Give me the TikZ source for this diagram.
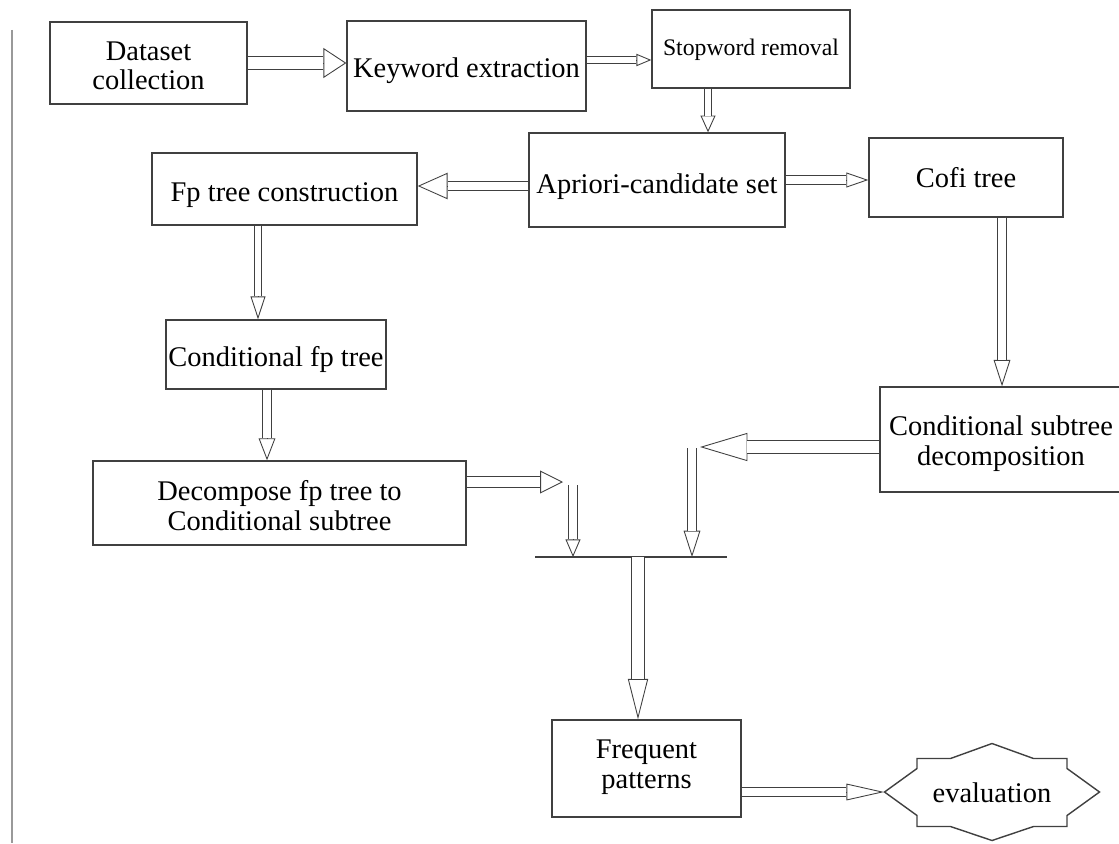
\documentclass[tikz,border=0pt]{standalone}
\usepackage{fontspec}
\setmainfont{Liberation Serif}
\usetikzlibrary{arrows.meta}

\tikzset{
	box/.style={draw=black!75, line width=0.8pt, inner sep=0pt, align=center},
	tb/.style={text height=#1, text depth=0pt},
	hollow/.style n args={3}{draw=black!75, line width=0.5pt, -{Triangle[open, width=#2, length=#3]},
		postaction={draw, -, double=white, double distance=#1, shorten >=#3}}
}

\begin{document}
\begin{tikzpicture}[font=\fontsize{16.2}{17}\selectfont]
	\useasboundingbox (0,0) rectangle (22.38,-16.86);
	\draw[black!40, line width=0.8pt] (0.24,-0.6) -- (0.24,-16.86);

	\draw (2.97,-1.26) node[box, tb=1.08cm, minimum width=3.94cm, minimum height=1.64cm] (data) {Dataset\\collection};
	\draw (9.33,-1.32) node[box, tb=0.48cm, minimum width=4.78cm, minimum height=1.80cm] (key) {Keyword extraction};
	\draw (15.02,-0.98) node[box, tb=0.26cm, minimum width=3.96cm, minimum height=1.56cm, font=\fontsize{13.5}{15}\selectfont] (stop) {Stopword removal};
	\draw (13.14,-3.60) node[box, tb=0.52cm, minimum width=5.12cm, minimum height=1.88cm] (apriori) {Apriori-candidate set};
	\draw (5.69,-3.78) node[box, tb=0.48cm, minimum width=5.30cm, minimum height=1.44cm] (fptree) {Fp tree construction};
	\draw (19.32,-3.55) node[box, tb=0.40cm, minimum width=3.88cm, minimum height=1.58cm] (cofi) {Cofi tree};
	\draw (5.52,-7.09) node[box, tb=0.48cm, minimum width=4.40cm, minimum height=1.38cm] (condfp) {Conditional fp tree};
	\draw (5.59,-10.06) node[box, tb=1.08cm, minimum width=7.46cm, minimum height=1.68cm] (decomp) {Decompose fp tree to\\Conditional subtree};
	\draw (20.02,-8.79) node[box, tb=1.02cm, minimum width=4.84cm, minimum height=2.10cm] (condsub) {Conditional subtree\\decomposition};
	\draw (12.93,-15.37) node[box, tb=0.78cm, minimum width=3.78cm, minimum height=1.94cm] (freq) {Frequent\\patterns};
	\draw (19.84,-15.84) node[inner sep=0pt, tb=0.40cm, minimum width=4.30cm, minimum height=1.94cm] (eval) {evaluation};

	\draw[black!75, line width=0.8pt, shift={(eval.center)}] (-2.15,0) -- (-1.5,0.47) -- (-1.5,0.67) -- (-0.83,0.67) -- (0,0.97) -- (0.83,0.67) -- (1.5,0.67) -- (1.5,0.47) -- (2.15,0)
		-- (1.5,-0.47) -- (1.5,-0.69) -- (0.83,-0.69) -- (0,-0.97) -- (-0.83,-0.69) -- (-1.5,-0.69) -- (-1.5,-0.47) -- cycle;

	\coordinate (dturn) at (11.26,-9.64);
	\coordinate (dleg) at (11.46,-9.70);
	\coordinate (cturn) at (14.00,-8.94);
	\coordinate (cleg) at (13.84,-8.96);
	\coordinate (jl) at (10.70,-11.14);
	\coordinate (jr) at (14.54,-11.14);
	\coordinate (jm) at (12.76,-11.14);

	\draw[black!75, line width=0.8pt] (jl) -- (jr);

	\draw[hollow={6.5pt}{17pt}{13pt}] (data.east) -- (data.east -| key.west);
	\draw[hollow={3pt}{7pt}{8.5pt}] ([yshift=0.12cm]key.east) -- ([yshift=0.12cm]key.east -| stop.west);
	\draw[hollow={3.5pt}{8.5pt}{9.5pt}] ([xshift=-0.86cm]stop.south) -- ([xshift=-0.86cm]stop.south |- apriori.north);
	\draw[hollow={5pt}{15pt}{17pt}] ([yshift=-0.12cm]apriori.west) -- ([yshift=-0.12cm]apriori.west -| fptree.east);
	\draw[hollow={4.2pt}{8.5pt}{12.5pt}] (apriori.east) -- (apriori.east -| cofi.west);
	\draw[hollow={3.5pt}{8.5pt}{13pt}] ([xshift=-0.53cm]fptree.south) -- ([xshift=-0.53cm]fptree.south |- condfp.north);
	\draw[hollow={4.2pt}{9.5pt}{15pt}] ([xshift=0.72cm]cofi.south) -- ([xshift=0.72cm]cofi.south |- condsub.north);
	\draw[hollow={5pt}{9.5pt}{12.5pt}] ([xshift=-0.18cm]condfp.south) -- ([xshift=-0.18cm]condfp.south |- decomp.north);
	\draw[hollow={5.5pt}{13pt}{13pt}] (decomp.east |- dturn) -- (dturn);
	\draw[hollow={4.2pt}{8.5pt}{10pt}] (dleg) -- (dleg |- jl);
	\draw[hollow={7pt}{16pt}{27pt}] (condsub.west |- cturn) -- (cturn);
	\draw[hollow={5pt}{9.5pt}{15pt}] (cleg) -- (cleg |- jl);
	\draw[hollow={7pt}{11.5pt}{23pt}] (jm) -- (jm |- freq.north);
	\draw[hollow={4.2pt}{9.5pt}{21.5pt}] ([yshift=-0.47cm]freq.east) -- (eval.west);
\end{tikzpicture}
\end{document}
